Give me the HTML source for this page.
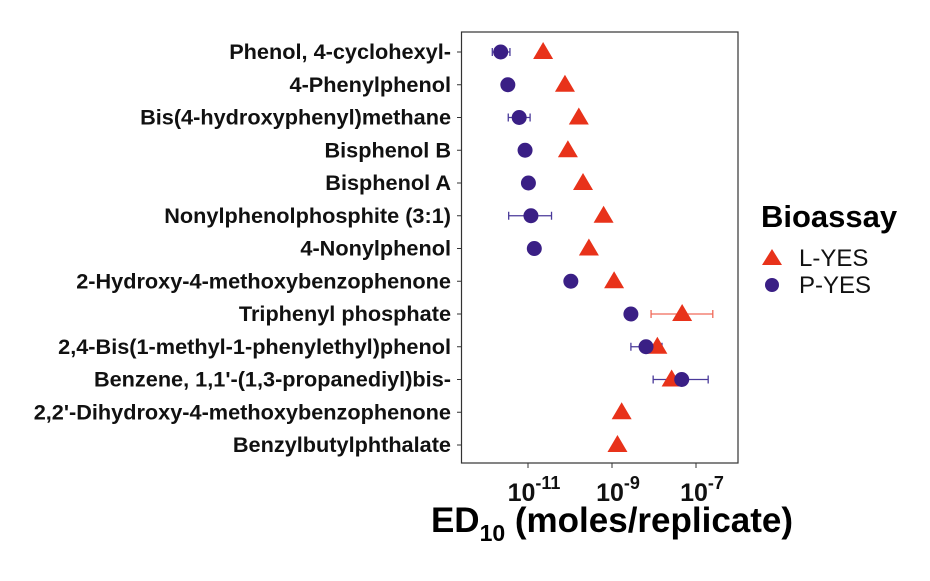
<!DOCTYPE html>
<html><head><meta charset="utf-8"><style>
body{margin:0;background:#fff;width:930px;height:576px;overflow:hidden}
svg text{font-family:"Liberation Sans",Arial,sans-serif}
</style></head><body>
<svg id="chart" width="930" height="576">
<rect x="461.5" y="32" width="276.5" height="431" fill="#fff" stroke="#333" stroke-width="1.2"/>
<g id="ylab"></g><g id="xax"></g><g id="marks"></g>
<text x="612" y="532" text-anchor="middle" font-size="35" font-weight="bold">ED<tspan font-size="23" dy="9">10</tspan><tspan dy="-9"> (moles/replicate)</tspan></text>
<g>
<text x="761" y="227" font-size="31" font-weight="bold">Bioassay</text>
<polygon points="772,249 782,265 762,265" fill="#e8321a"/>
<text x="799" y="266" font-size="24" fill="#111">L-YES</text>
<circle cx="772" cy="285" r="7" fill="#3a1f85"/>
<text x="799" y="293" font-size="24" fill="#111">P-YES</text>
</g>
</svg>
<script>
const categories=["Phenol, 4-cyclohexyl-","4-Phenylphenol","Bis(4-hydroxyphenyl)methane","Bisphenol B","Bisphenol A","Nonylphenolphosphite (3:1)","4-Nonylphenol","2-Hydroxy-4-methoxybenzophenone","Triphenyl phosphate","2,4-Bis(1-methyl-1-phenylethyl)phenol","Benzene, 1,1'-(1,3-propanediyl)bis-","2,2'-Dihydroxy-4-methoxybenzophenone","Benzylbutylphthalate"];
const lyes=[-10.64,-10.12,-9.79,-10.05,-9.69,-9.20,-9.55,-8.95,-7.33,-7.92,-7.58,-8.77,-8.87];
const lyesLo=[null,null,null,null,null,null,null,null,-8.07,null,null,null,null];
const lyesHi=[null,null,null,null,null,null,null,null,-6.60,null,null,null,null];
const pyes=[-11.65,-11.48,-11.21,-11.07,-10.99,-10.93,-10.85,-9.98,-8.55,-8.19,-7.34,null,null];
const pyesLo=[-11.85,null,-11.47,null,null,-11.46,null,null,null,-8.55,-8.02,null,null];
const pyesHi=[-11.43,null,-10.95,null,null,-10.44,null,null,null,-7.81,-6.71,null,null];
const xTicks=[-11,-9,-7];
const NS="http://www.w3.org/2000/svg";
const X=v=>528+(v+11)*42;
const Y=i=>52+i*32.75;
function mk(t,a,p){const e=document.createElementNS(NS,t);for(const k in a)e.setAttribute(k,a[k]);p.appendChild(e);return e;}
const yl=document.getElementById('ylab'),xa=document.getElementById('xax'),mg=document.getElementById('marks');
categories.forEach((c,i)=>{
 const t=mk('text',{x:451,y:Y(i)+7,'text-anchor':'end','font-size':21.7,'font-weight':'bold',fill:'#111'},yl);
 t.textContent=c;
 
 
 mk('line',{x1:457,x2:461.5,y1:Y(i),y2:Y(i),stroke:'#333'},yl);
});
xTicks.forEach(v=>{
 mk('line',{x1:X(v),x2:X(v),y1:463,y2:468,stroke:'#333'},xa);
 const t=mk('text',{x:X(v)+6,y:501,'text-anchor':'middle','font-size':25,'font-weight':'bold',fill:'#111'},xa);
 
 
 const a=mk('tspan',{},t);a.textContent='10';
 const b=mk('tspan',{dy:-12,'font-size':18},t);b.textContent=String(v);
});
function err(lo,hi,y,col){
 mk('line',{x1:X(lo),x2:X(hi),y1:y,y2:y,stroke:col,'stroke-width':1.3},mg);
 mk('line',{x1:X(lo),x2:X(lo),y1:y-4,y2:y+4,stroke:col,'stroke-width':1.3},mg);
 mk('line',{x1:X(hi),x2:X(hi),y1:y-4,y2:y+4,stroke:col,'stroke-width':1.3},mg);
}
categories.forEach((c,i)=>{
 const y=Y(i);
 if(lyesLo[i]!=null)err(lyesLo[i],lyesHi[i],y,'#f06a5a');
 if(pyesLo[i]!=null)err(pyesLo[i],pyesHi[i],y,'#4a3a9a');
 if(lyes[i]!=null){const x=X(lyes[i]);
  const p=mk('polygon',{points:`${x},${y-10} ${x+10},${y+7} ${x-10},${y+7}`,fill:'#e8321a'},mg);
  
  }
 if(pyes[i]!=null){
  const p=mk('circle',{cx:X(pyes[i]),cy:y,r:7.5,fill:'#3a1f85'},mg);
  
  }
});
</script>
</body></html>
